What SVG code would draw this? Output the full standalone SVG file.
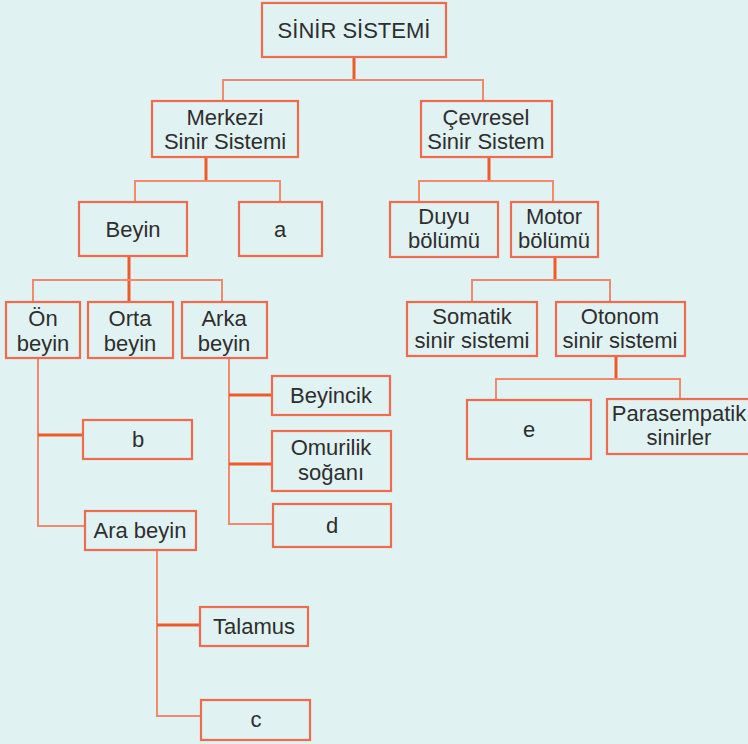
<svg xmlns="http://www.w3.org/2000/svg" width="748" height="744" viewBox="0 0 748 744">
<style>
.bx{fill:none;stroke:#ef6b4d;stroke-width:2.2}
.t{font-family:"Liberation Sans",Arial,sans-serif;font-size:22px;fill:#2e2e2e;text-anchor:middle}
.thin{fill:none;stroke:#f2896c;stroke-width:2}
.thick{fill:none;stroke:#f05a28;stroke-width:3}
</style>
<rect x="0" y="0" width="748" height="744" fill="#e1f2f2"/>
<g id="connectors">
<path class="thick" d="M354 57V80"/>
<path class="thin" d="M223 101V80H483V101"/>
<path class="thick" d="M206 157V181"/>
<path class="thin" d="M135 202V181H280V202"/>
<path class="thick" d="M489 157V181"/>
<path class="thin" d="M419 202V181H553V202"/>
<path class="thick" d="M129 256V302"/>
<path class="thin" d="M33 302V280H222V302"/>
<path class="thick" d="M555 257V280"/>
<path class="thin" d="M472 302V280H610V302"/>
<path class="thick" d="M616 356V379"/>
<path class="thin" d="M496 400V379H680V400"/>
<path class="thin" d="M38 358V526H85"/>
<path class="thick" d="M38 435H83"/>
<path class="thin" d="M229 358V524H273"/>
<path class="thick" d="M229 395H272"/>
<path class="thick" d="M229 464H272"/>
<path class="thin" d="M157 550V716H201"/>
<path class="thick" d="M157 625H200"/>
</g>
<g id="n-sinir"><rect class="bx" x="262" y="3" width="184" height="54"/><text class="t" x="354" y="38">SİNİR SİSTEMİ</text></g>
<g id="n-merkezi"><rect class="bx" x="152" y="101" width="146" height="56"/><text class="t" x="225" y="125">Merkezi</text><text class="t" x="225" y="149">Sinir Sistemi</text></g>
<g id="n-cevresel"><rect class="bx" x="421" y="101" width="131" height="56"/><text class="t" x="486" y="125">Çevresel</text><text class="t" x="486" y="149">Sinir Sistem</text></g>
<g id="n-beyin"><rect class="bx" x="79" y="202" width="108" height="54"/><text class="t" x="133" y="237">Beyin</text></g>
<g id="n-a"><rect class="bx" x="239" y="202" width="83" height="54"/><text class="t" x="280" y="237">a</text></g>
<g id="n-duyu"><rect class="bx" x="390" y="202" width="108" height="55"/><text class="t" x="444" y="224">Duyu</text><text class="t" x="444" y="248">bölümü</text></g>
<g id="n-motor"><rect class="bx" x="511" y="202" width="87" height="55"/><text class="t" x="554" y="224">Motor</text><text class="t" x="554" y="248">bölümü</text></g>
<g id="n-on"><rect class="bx" x="6" y="302" width="74" height="56"/><text class="t" x="43" y="326">Ön</text><text class="t" x="43" y="351">beyin</text></g>
<g id="n-orta"><rect class="bx" x="88" y="302" width="85" height="56"/><text class="t" x="130" y="326">Orta</text><text class="t" x="130" y="351">beyin</text></g>
<g id="n-arka"><rect class="bx" x="182" y="302" width="85" height="56"/><text class="t" x="224" y="326">Arka</text><text class="t" x="224" y="351">beyin</text></g>
<g id="n-somatik"><rect class="bx" x="407" y="302" width="130" height="54"/><text class="t" x="472" y="324">Somatik</text><text class="t" x="472" y="348">sinir sistemi</text></g>
<g id="n-otonom"><rect class="bx" x="556" y="302" width="129" height="54"/><text class="t" x="620" y="324">Otonom</text><text class="t" x="620" y="348">sinir sistemi</text></g>
<g id="n-e"><rect class="bx" x="467" y="400" width="124" height="59"/><text class="t" x="529" y="437">e</text></g>
<g id="n-parasempatik"><rect class="bx" x="607" y="399" width="145" height="55"/><text class="t" x="679" y="421">Parasempatik</text><text class="t" x="679" y="445">sinirler</text></g>
<g id="n-beyincik"><rect class="bx" x="272" y="376" width="118" height="39"/><text class="t" x="331" y="403">Beyincik</text></g>
<g id="n-b"><rect class="bx" x="83" y="420" width="109" height="39"/><text class="t" x="138" y="447">b</text></g>
<g id="n-omurilik"><rect class="bx" x="272" y="431" width="119" height="60"/><text class="t" x="331" y="455">Omurilik</text><text class="t" x="331" y="480">soğanı</text></g>
<g id="n-d"><rect class="bx" x="273" y="504" width="118" height="43"/><text class="t" x="332" y="533">d</text></g>
<g id="n-ara"><rect class="bx" x="85" y="511" width="111" height="39"/><text class="t" x="140" y="538">Ara beyin</text></g>
<g id="n-talamus"><rect class="bx" x="200" y="607" width="108" height="39"/><text class="t" x="254" y="634">Talamus</text></g>
<g id="n-c"><rect class="bx" x="201" y="700" width="109" height="40"/><text class="t" x="256" y="727">c</text></g>
</svg>
